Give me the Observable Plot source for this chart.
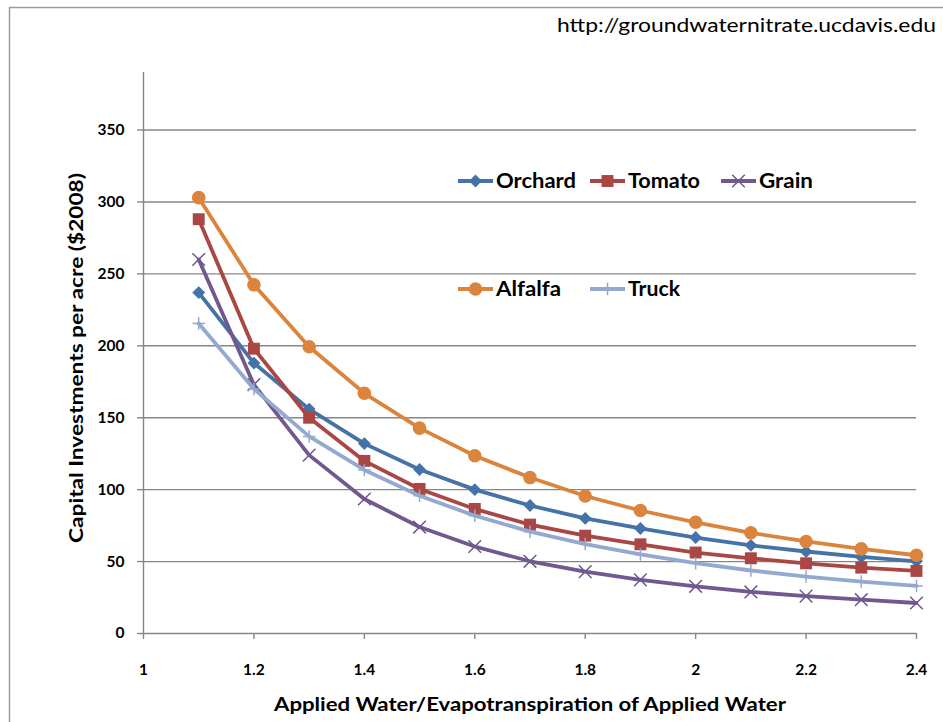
<!DOCTYPE html>
<html>
<head>
<meta charset="utf-8">
<script src="https://cdn.jsdelivr.net/npm/d3@7"></script>
<script src="https://cdn.jsdelivr.net/npm/@observablehq/plot@0.6"></script>
<style>
  html, body { margin: 0; padding: 0; background: #fff; }
  #chart { position: relative; width: 943px; height: 722px; overflow: hidden; }
  svg { font-family: Lato, "Open Sans", sans-serif; }
</style>
</head>
<body>
<div id="chart"></div>
<script>
// ---- data ----
const ratio = [1.1, 1.2, 1.3, 1.4, 1.5, 1.6, 1.7, 1.8, 1.9, 2.0, 2.1, 2.2, 2.3, 2.4];
const orchard = [237, 188, 156, 132, 114, 100, 89, 80, 73, 66.7, 61.3, 57, 53.2, 50.2];
const tomato  = [288, 198, 150, 120, 100.5, 86.6, 75.7, 68, 62, 56.3, 52.3, 48.8, 45.8, 43.5];
const grain   = [260, 173, 124, 93.5, 74, 60.5, 50.2, 43, 37.3, 32.8, 28.9, 26, 23.5, 21.2];
const alfalfa = [303, 242.4, 199.3, 167, 142.8, 123.6, 108.4, 95.6, 85.5, 77.3, 70, 64, 58.8, 54.4];
const truck   = [215.5, 170, 137, 113.7, 95.8, 81.9, 70.8, 62.2, 55, 48.9, 43.8, 39.6, 36.1, 33.1];
const seriesNames = ["Orchard", "Tomato", "Grain", "Alfalfa", "Truck"];
const seriesValues = [orchard, tomato, grain, alfalfa, truck];
const xTicks = [1, 1.2, 1.4, 1.6, 1.8, 2, 2.2, 2.4];
const yTicks = [0, 50, 100, 150, 200, 250, 300, 350];
const xTitle = "Applied Water/Evapotranspiration of Applied Water";
const yTitle = "Capital Investments per acre ($2008)";
const source = "http://groundwaternitrate.ucdavis.edu";

// ---- styles ----
const colors = {Orchard: "#4572A7", Tomato: "#AA4643", Grain: "#71588F", Alfalfa: "#DB843D", Truck: "#93A9CF"};
const symbolStyle = {
  Orchard: {symbol: "diamond2", r: 5.8, filled: true},
  Tomato:  {symbol: "square2",  r: 7.6, filled: true},
  Grain:   {symbol: "times",    r: 5.8, filled: false},
  Alfalfa: {symbol: "circle",   r: 6.8, filled: true},
  Truck:   {symbol: "plus",     r: 4.1, filled: false}
};
const d3sym = {diamond2: d3.symbolDiamond2, square2: d3.symbolSquare2, times: d3.symbolTimes, circle: d3.symbolCircle, plus: d3.symbolPlus};

const rows = [];
seriesNames.forEach((name, i) => ratio.forEach((x, j) => rows.push({series: name, x, y: seriesValues[i][j]})));

const grid = "#878787";
const marks = [
  Plot.gridY(yTicks.filter(d => d > 0), {stroke: grid, strokeOpacity: 1, strokeWidth: 1.4}),
  Plot.axisY(yTicks, {tickSize: 6, tickPadding: 13, stroke: grid, strokeWidth: 1.4, fontSize: 15.5, fontWeight: "bold", fill: "#000", label: null}),
  Plot.axisX(xTicks, {tickSize: 6, tickPadding: 24, stroke: grid, strokeWidth: 1.4, fontSize: 15.5, fontWeight: "bold", fill: "#000", label: null, tickFormat: d => String(d)}),
  Plot.ruleY([0], {stroke: grid, strokeWidth: 1.4}),
  Plot.ruleX([1], {stroke: grid, strokeWidth: 1.4})
];
for (const name of seriesNames) {
  const data = rows.filter(r => r.series === name);
  const st = symbolStyle[name];
  marks.push(Plot.line(data, {x: "x", y: "y", stroke: colors[name], strokeWidth: 3.8, strokeLinejoin: "round"}));
  marks.push(Plot.dot(data, {
    x: "x", y: "y", symbol: () => st.symbol, r: st.r,
    fill: st.filled ? colors[name] : "none",
    stroke: colors[name], strokeWidth: st.filled ? 0 : 1.5
  }));
}

const plot = Plot.plot({
  width: 943, height: 722,
  marginLeft: 143, marginRight: 27, marginTop: 72, marginBottom: 89,
  x: {domain: [1, 2.4]},
  y: {domain: [0, 390]},
  style: {background: "#fff", fontFamily: "Lato, 'Open Sans', sans-serif", overflow: "visible"},
  marks
});
document.getElementById("chart").appendChild(plot);

const svg = d3.select(plot);
// outer border
svg.append("path").attr("d", "M9.5,722 V7.5 H943").attr("fill", "none").attr("stroke", "#9a9a9a").attr("stroke-width", 1.5);
// source text
svg.append("text").attr("x", 557).attr("y", 32).attr("text-anchor", "start")
  .attr("font-size", 19.5).attr("fill", "#000").attr("textLength", 379).attr("lengthAdjust", "spacingAndGlyphs").text(source);
// axis titles
svg.append("text").attr("x", 274).attr("y", 711).attr("text-anchor", "start")
  .attr("font-size", 19.5).attr("font-weight", "bold").attr("fill", "#000")
  .attr("textLength", 512).attr("lengthAdjust", "spacingAndGlyphs").text(xTitle);
svg.append("text").attr("transform", "translate(83,543) rotate(-90)").attr("text-anchor", "start")
  .attr("font-size", 19.5).attr("font-weight", "bold").attr("fill", "#000")
  .attr("textLength", 370).attr("lengthAdjust", "spacingAndGlyphs").text(yTitle);

// legend
const legendItems = [
  {name: "Orchard", row: 0, col: 0, w: 80}, {name: "Tomato", row: 0, col: 1, w: 72}, {name: "Grain", row: 0, col: 2, w: 54},
  {name: "Alfalfa", row: 1, col: 0, w: 65}, {name: "Truck", row: 1, col: 1, w: 52}
];
const colX = [458, 590, 721];
const rowY = [181, 289];
const lg = svg.append("g");
for (const it of legendItems) {
  const x0 = colX[it.col], y0 = rowY[it.row], c = colors[it.name], st = symbolStyle[it.name];
  lg.append("line").attr("x1", x0).attr("x2", x0 + 35).attr("y1", y0).attr("y2", y0).attr("stroke", c).attr("stroke-width", 3.8);
  lg.append("path").attr("d", d3.symbol(d3sym[st.symbol], Math.PI * st.r * st.r)())
    .attr("transform", `translate(${x0 + 17.5},${y0})`)
    .attr("fill", st.filled ? c : "none").attr("stroke", st.filled ? "none" : c).attr("stroke-width", 1.5);
  lg.append("text").attr("x", x0 + 38).attr("y", y0).attr("dy", "0.36em").attr("text-anchor", "start")
    .attr("font-size", 20.5).attr("font-weight", "bold").attr("fill", "#000")
    .attr("textLength", it.w).attr("lengthAdjust", "spacingAndGlyphs").text(it.name);
}
</script>
</body>
</html>
